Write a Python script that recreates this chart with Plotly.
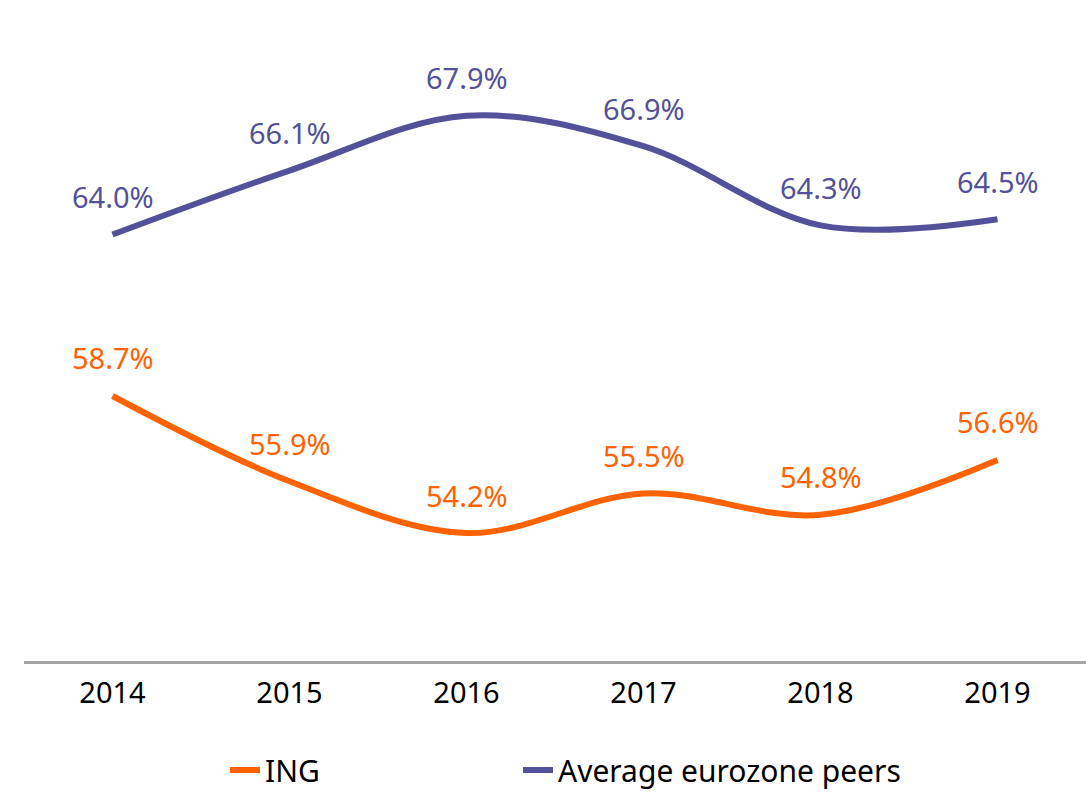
import plotly.graph_objects as go

years = ["2014", "2015", "2016", "2017", "2018", "2019"]
ing = [58.7, 55.9, 54.2, 55.5, 54.8, 56.6]
peers = [64.0, 66.1, 67.9, 66.9, 64.3, 64.5]

ORANGE = "#FF6200"
PURPLE = "#525199"
FONT = "Noto Sans"

fig = go.Figure()
fig.add_trace(go.Scatter(x=years, y=ing, mode="lines", name="ING", legend="legend",
                         line=dict(color=ORANGE, width=6, shape="spline", smoothing=1)))
fig.add_trace(go.Scatter(x=years, y=peers, mode="lines", name="Average eurozone peers",
                         legend="legend2",
                         line=dict(color=PURPLE, width=6, shape="spline", smoothing=1)))

for series, color in ((ing, ORANGE), (peers, PURPLE)):
    for i, v in enumerate(series):
        fig.add_annotation(x=i, y=v, xref="x", yref="y", text=f"{v:.1f}%", showarrow=False,
                           yshift=38, font=dict(family=FONT, size=29, color=color))

leg_common = dict(orientation="h", yref="container", y=(792 - 770) / 792, yanchor="middle",
                  xref="container", xanchor="left", borderwidth=0,
                  font=dict(family=FONT, size=30, color="#000000"),
                  bgcolor="rgba(0,0,0,0)")

fig.update_layout(
    width=1086, height=792,
    margin=dict(l=24, r=0, t=0, b=131),
    paper_bgcolor="white", plot_bgcolor="white",
    font=dict(family=FONT, size=29, color="#000000"),
    showlegend=True,
    legend=dict(x=(205 + 20) / 1086, **leg_common),
    legend2=dict(x=(497 + 21) / 1086, **leg_common),
)
fig.update_xaxes(type="category", range=[-0.5, 5.5], showgrid=False, zeroline=False,
                 showline=True, linecolor="#A6A6A6", linewidth=3,
                 ticks="", ticklabelstandoff=4,
                 tickfont=dict(family=FONT, size=29, color="#000000"))
fig.update_yaxes(range=[50.0, 71.7], visible=False, showgrid=False, zeroline=False)

fig.write_html("out.html", config={"displayModeBar": False},
               post_script="document.body.style.margin='0';")
